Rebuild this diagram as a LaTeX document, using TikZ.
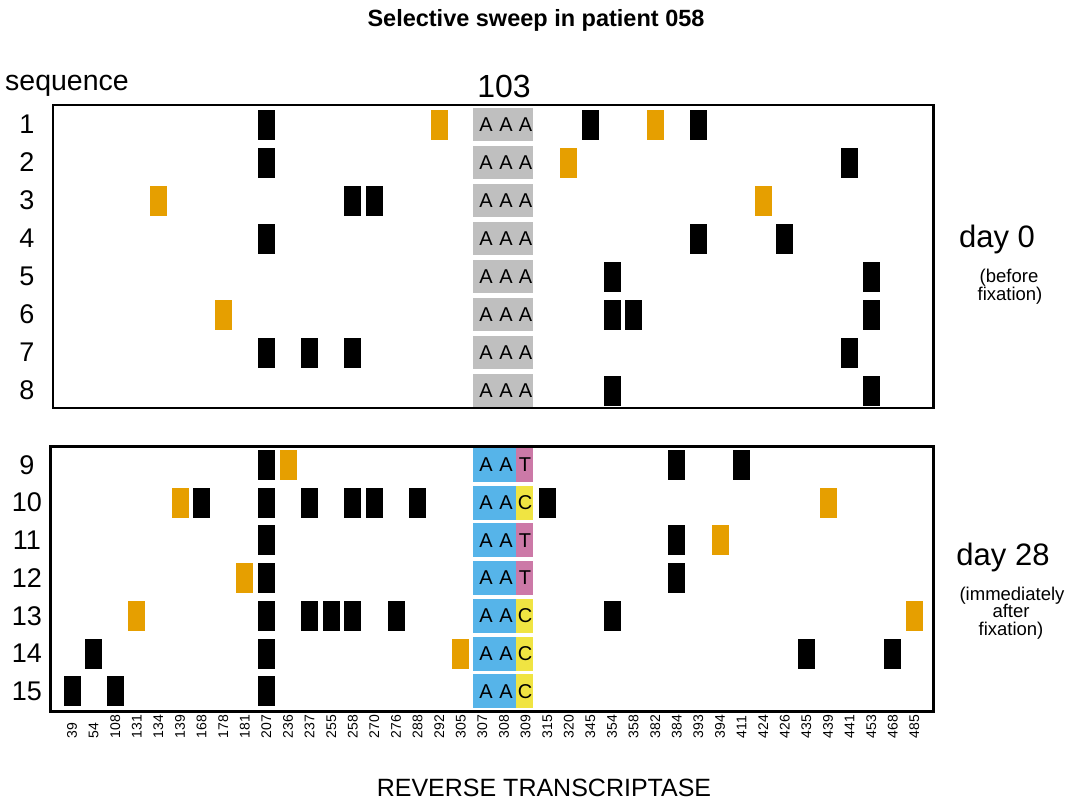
\documentclass[tikz,border=0pt]{standalone}
\usepackage{fontspec}
\setmainfont{Liberation Sans}
\definecolor{mkorange}{HTML}{E69F00}
\definecolor{cellgrey}{HTML}{BFBFBF}
\definecolor{cellblue}{HTML}{56B4E9}
\definecolor{cellpink}{HTML}{CC79A7}
\definecolor{cellyellow}{HTML}{F0E442}
\newcommand\fsz[1]{\fontsize{#1}{#1}\selectfont}
\begin{document}
\begin{tikzpicture}[x=1pt,y=-1pt,
  mk/.style={minimum width=17pt,minimum height=30pt,inner sep=0pt,outer sep=0pt},
  bmk/.style={mk,fill=black},
  omk/.style={mk,fill=mkorange},
  cell/.style={minimum width=60pt,minimum height=33pt,inner sep=0pt,outer sep=0pt},
  gcell/.style={cell,fill=cellgrey},
  bcell/.style={cell,minimum height=34pt,fill=cellblue},
  thirdcell/.style={minimum width=17pt,minimum height=34pt,inner sep=0pt,outer sep=0pt},
  base/.style={inner sep=0pt,outer sep=0pt},
  letter/.style={base,font=\fsz{20}},
  frame/.style={draw=black,line width=2.7pt},
  axlab/.style={base,rotate=90,anchor=west,font=\fsz{14}},
  rowlab/.style={base,font=\fsz{27}},
  note/.style={base,anchor=base,font=\fsz{18.5}}
]
\useasboundingbox (0,0) rectangle (1071,800);
\fill[white] (0,0) rectangle (1071,800);

% codon cells, day 0
\foreach \r in {1,...,8} {
  \pgfmathsetmacro\yy{124.5+(\r-1)*38}
  \node[gcell] (cell\r) at (503,\yy) {};
  \node[letter] (la\r) at (486,\yy) {A};
  \node[letter] (lb\r) at (506,\yy) {A};
  \node[letter] (lc\r) at (525.5,\yy) {A};
}
% codon cells, day 28
\foreach \r/\n/\col in {9/T/cellpink,10/C/cellyellow,11/T/cellpink,12/T/cellpink,13/C/cellyellow,14/C/cellyellow,15/C/cellyellow} {
  \pgfmathsetmacro\yy{465+(\r-9)*37.7}
  \node[bcell] (cell\r) at (503,\yy) {};
  \node[thirdcell,fill=\col] (third\r) at (524.5,\yy) {};
  \node[letter] (la\r) at (486,\yy) {A};
  \node[letter] (lb\r) at (506,\yy) {A};
  \node[letter] (lc\r) at (525,\yy) {\n};
}

% mutation marks
\foreach \r/\c/\s in {
  1/9/bmk,1/17/omk,1/24/bmk,1/27/omk,1/29/bmk,
  2/9/bmk,2/23/omk,2/36/bmk,
  3/4/omk,3/13/bmk,3/14/bmk,3/32/omk,
  4/9/bmk,4/29/bmk,4/33/bmk,
  5/25/bmk,5/37/bmk,
  6/7/omk,6/25/bmk,6/26/bmk,6/37/bmk,
  7/9/bmk,7/11/bmk,7/13/bmk,7/36/bmk,
  8/25/bmk,8/37/bmk,
  9/9/bmk,9/10/omk,9/28/bmk,9/31/bmk,
  10/5/omk,10/6/bmk,10/9/bmk,10/11/bmk,10/13/bmk,10/14/bmk,10/16/bmk,10/22/bmk,10/35/omk,
  11/9/bmk,11/28/bmk,11/30/omk,
  12/8/omk,12/9/bmk,12/28/bmk,
  13/3/omk,13/9/bmk,13/11/bmk,13/12/bmk,13/13/bmk,13/15/bmk,13/25/bmk,13/39/omk,
  14/1/bmk,14/9/bmk,14/18/omk,14/34/bmk,14/38/bmk,
  15/0/bmk,15/2/bmk,15/9/bmk} {
  \pgfmathsetmacro\yy{\r<9 ? 124.5+(\r-1)*38 : 465+(\r-9)*37.7}
  \pgfmathsetmacro\xx{72+21.6*\c}
  \node[\s] (m\r-\c) at (\xx,\yy) {};
}

% frames
\draw[frame] (53,105) rectangle (933.3,408);
\draw[frame] (50.5,446.3) rectangle (933.3,711.3);

% row labels
\foreach \r in {1,...,15} {
  \pgfmathsetmacro\yy{\r<9 ? 124.5+(\r-1)*38 : 465+(\r-9)*37.7}
  \node[rowlab] (row\r) at (27,\yy) {\r};
}

% axis labels
\foreach \lab [count=\i from 0] in {39,54,108,131,134,139,168,178,181,207,236,237,255,258,270,276,288,292,305,307,308,309,315,320,345,354,358,382,384,393,394,411,424,426,435,439,441,453,468,485} {
  \node[axlab] (ax\i) at ({72+21.6*\i},738) {\lab};
}

% texts
\node[base,anchor=base,font=\bfseries\fsz{23.5}] (title) at (536,27) {Selective sweep in patient 058};
\node[base,anchor=base,font=\fsz{28.5}] (seq) at (67,90) {sequence};
\node[base,anchor=base,font=\fsz{32}] (pos103) at (504,97) {103};
\node[base,anchor=base,font=\fsz{31}] (day0) at (997,247) {day 0};
\node[note] (d0a) at (1009,282) {(before};
\node[note] (d0b) at (1010,300) {fixation)};
\node[base,anchor=base,font=\fsz{31}] (day28) at (1003,565) {day 28};
\node[note] (d28a) at (1012,600) {(immediately};
\node[note] (d28b) at (1011,617) {after};
\node[note] (d28c) at (1011,635) {fixation)};
\node[base,anchor=base,font=\fsz{25}] (rt) at (544,796) {REVERSE TRANSCRIPTASE};
\end{tikzpicture}
\end{document}
